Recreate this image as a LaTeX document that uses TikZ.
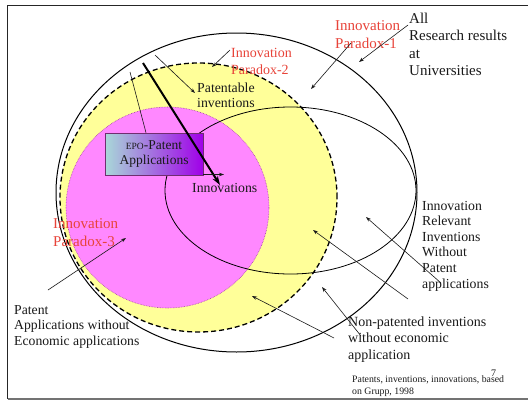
\documentclass[tikz,border=0pt]{standalone}
\usepackage{fontspec}
\setmainfont{Liberation Serif}
\usetikzlibrary{shapes.geometric,arrows.meta}
\definecolor{ylw}{HTML}{FFFF99}
\definecolor{mag}{HTML}{FF88FF}
\definecolor{magb}{HTML}{A040A0}
\definecolor{redtxt}{HTML}{E8443A}
\definecolor{txt}{HTML}{1A1A1A}
\definecolor{boxl}{HTML}{A8D8D8}
\definecolor{boxm}{HTML}{9A98D0}
\definecolor{boxr}{HTML}{A000E8}
\begin{document}
\begin{tikzpicture}[x=1pt,y=-1pt,
  lbl/.style={anchor=west,inner sep=0pt,align=left,text=txt},
  redlbl/.style={anchor=west,inner sep=0pt,align=left,text=redtxt,font=\fontsize{15}{17.5}\selectfont},
  ell/.style={ellipse,inner sep=0pt},
  thin arrow/.style={draw=txt,line width=0.6pt,-{Stealth[length=5pt,width=3.5pt]}}]
\useasboundingbox (0,0) rectangle (528,402);
\fill[white] (0,0) rectangle (528,402);
% frame
\draw[line width=1.3pt,black!85] (528,5.5) -- (7.5,5.5) -- (7.5,399);
\draw[line width=1.3pt,black!55] (7.5,399) -- (528,399);
% ellipses
\node[ell,draw,line width=1pt,fill=white,minimum width=361pt,minimum height=319pt] (outer) at (236.5,192.5) {};
\node[ell,draw,dash pattern=on 5pt off 3pt,line width=1.3pt,fill=ylw,minimum width=277pt,minimum height=269pt] (yel) at (198.5,197.5) {};
\node[ell,draw=magb,densely dotted,line width=0.6pt,fill=mag,minimum width=203pt,minimum height=201pt] (magc) at (167.5,207.5) {};
\node[ell,draw,line width=0.8pt,minimum width=251pt,minimum height=167pt] (inner) at (290.5,190.5) {};
% box
\node[draw=magb!70!black,line width=0.6pt,left color=boxl,middle color=boxm,right color=boxr,minimum width=98pt,minimum height=42pt,inner sep=0pt,align=center,text=txt,font=\fontsize{13.5}{15.5}\selectfont] (epo) at (154,154) {{\fontsize{9.5}{9.5}\selectfont EPO}-Patent\\Applications};
% labels
\node[lbl,font=\fontsize{15}{17.5}\selectfont] (all) at (409,44.5) {All\\Research results\\at\\Universities};
\node[redlbl] (p1) at (335,34.5) {Innovation\\Paradox-1};
\node[redlbl,font=\fontsize{14}{16.5}\selectfont] (p2) at (231,61.5) {Innovation\\Paradox-2};
\node[lbl,font=\fontsize{13.8}{15.5}\selectfont] (pat) at (197,95.5) {Patentable\\inventions};
\node[lbl,font=\fontsize{13.8}{15.5}\selectfont] (inno) at (192,188) {Innovations};
\node[redlbl,font=\fontsize{15}{18}\selectfont] (p3) at (53,233) {Innovation\\Paradox-3};
\node[lbl,font=\fontsize{13.7}{15.5}\selectfont] (pae) at (14,326.5) {Patent\\Applications without\\Economic applications};
\node[lbl,font=\fontsize{13.8}{15.6}\selectfont] (irr) at (422,246) {Innovation\\Relevant\\Inventions\\Without\\Patent\\applications};
\node[lbl,font=\fontsize{14}{16.5}\selectfont] (npi) at (348,339.5) {Non-patented inventions\\without economic\\application};
\node[lbl,font=\fontsize{9.8}{12.3}\selectfont] (foot) at (352,386) {Patents, inventions, innovations, based\\on Grupp, 1998};
\node[lbl,font=\fontsize{10}{12}\selectfont] (seven) at (491,373) {7};
% arrow end points
\coordinate (a1t) at (408,25);   \coordinate (a1h) at (359,62);
\coordinate (a2t) at (351,43);   \coordinate (a2h) at (311,89);
\coordinate (a3t) at (230,50);   \coordinate (a3h) at (212,67);
\coordinate (a4t) at (155,55);   \coordinate (a4h) at (195,93);
\coordinate (l1t) at (130,72);
\coordinate (a5t) at (143,63);   \coordinate (a5h) at (220,185);
\coordinate (a6t) at (203,174.5); \coordinate (a6h) at (224,174.5);
\coordinate (a7t) at (48,290);   \coordinate (a7h) at (126,238);
\coordinate (a8t) at (441,283);  \coordinate (a8h) at (366,217);
\coordinate (a9t) at (408,299);  \coordinate (a9h) at (313,230);
\coordinate (a10t) at (361,336); \coordinate (a10h) at (322,287);
\coordinate (a11t) at (334,338); \coordinate (a11h) at (252,296);
% connectors
\draw[thin arrow] (a1t) -- (a1h);
\draw[thin arrow] (a2t) -- (a2h);
\draw[thin arrow] (a3t) -- (a3h);
\draw[thin arrow] (a4t) -- (a4h);
\draw[draw=txt,line width=0.6pt] (l1t) -- (epo.north west -| 146,0);
\draw[line width=2pt,-{Stealth[length=9pt,width=6pt]}] (a5t) -- (a5h);
\draw[thin arrow] (a6t) -- (a6h);
\draw[thin arrow] (a7t) -- (a7h);
\draw[thin arrow] (a8t) -- (a8h);
\draw[thin arrow] (a9t) -- (a9h);
\draw[thin arrow] (a10t) -- (a10h);
\draw[thin arrow] (a11t) -- (a11h);
\end{tikzpicture}
\end{document}
